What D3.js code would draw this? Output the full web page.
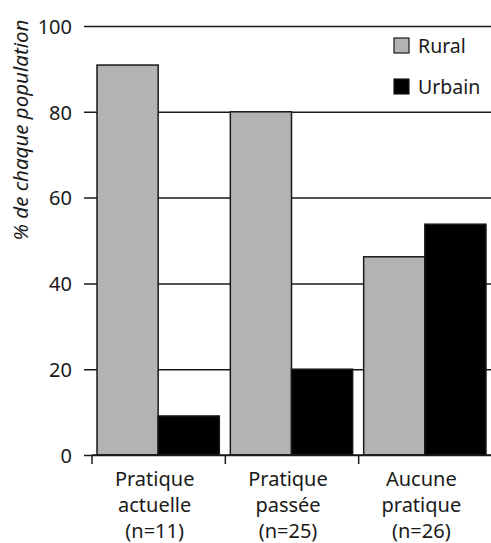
<!DOCTYPE html>
<html>
<head>
<meta charset="utf-8">
<script src="https://cdn.jsdelivr.net/npm/d3@7"></script>
<style>
  html, body { margin: 0; padding: 0; background: #fff; }
  svg { display: block; }
  text { font-family: "Noto Sans", sans-serif; fill: #1a1a1a; }
</style>
</head>
<body>
<svg id="chart" width="491" height="543"></svg>
<script>
const categories = ["Pratique actuelle (n=11)", "Pratique passée (n=25)", "Aucune pratique (n=26)"];
const categoryLines = [["Pratique", "actuelle", "(n=11)"], ["Pratique", "passée", "(n=25)"], ["Aucune", "pratique", "(n=26)"]];
const seriesNames = ["Rural", "Urbain"];
const ruralValues = [90.9, 80, 46.2];
const urbainValues = [9.1, 20, 53.8];
const yTicks = [0, 20, 40, 60, 80, 100];
const yTitle = "% de chaque population";

const colors = { Rural: "#b3b3b3", Urbain: "#000000" };
const seriesValues = { Rural: ruralValues, Urbain: urbainValues };

const svg = d3.select("#chart");
const plotLeft = 92, plotRight = 492, plotTop = 26, plotBottom = 455;

const x = d3.scaleBand().domain(categories).range([plotLeft, plotRight]).padding(0);
const xs = d3.scaleBand().domain(seriesNames).range([5, x.bandwidth() - 6]).padding(0);
const y = d3.scaleLinear().domain([0, 100]).range([plotBottom, plotTop]);

// gridlines + y ticks
const yAxis = d3.axisLeft(y).tickValues(yTicks).tickSize(-(491 - 84)).tickPadding(12).tickFormat(d3.format("d"));
const gy = svg.append("g").attr("transform", `translate(84,0)`).call(yAxis);
gy.select(".domain").remove();
gy.selectAll(".tick line").attr("stroke", "#1a1a1a").attr("stroke-width", 1.5).attr("x1", 0);
gy.selectAll(".tick text").attr("x", -12).attr("dy", "0.36em").style("font-size", "20px").style("font-family", "Noto Sans").attr("fill", "#1a1a1a");

// bars
const groups = svg.append("g").selectAll("g").data(categories).join("g")
  .attr("transform", d => `translate(${x(d)},0)`);
groups.selectAll("rect")
  .data((d, i) => seriesNames.map(s => ({ s, v: seriesValues[s][i] })))
  .join("rect")
  .attr("x", d => xs(d.s))
  .attr("width", xs.bandwidth())
  .attr("y", d => y(d.v))
  .attr("height", d => y(0) - y(d.v))
  .attr("fill", d => colors[d.s])
  .attr("stroke", "#1a1a1a")
  .attr("stroke-width", 1.5);

// x axis baseline and boundary ticks
svg.append("line").attr("x1", plotLeft).attr("x2", 491).attr("y1", y(0)).attr("y2", y(0))
  .attr("stroke", "#1a1a1a").attr("stroke-width", 1.5);
const boundaries = categories.map(c => x(c)).concat([x(categories[categories.length - 1]) + x.bandwidth()]);
svg.append("g").selectAll("line").data(boundaries).join("line")
  .attr("x1", d => d).attr("x2", d => d)
  .attr("y1", y(0)).attr("y2", y(0) + 9)
  .attr("stroke", "#1a1a1a").attr("stroke-width", 1.5);

// x labels
categories.forEach((c, i) => {
  const cx = x(c) + x.bandwidth() / 2 - 4;
  const t = svg.append("text")
    .attr("x", cx)
    .attr("text-anchor", "middle")
    .style("font-size", "20px");
  categoryLines[i].forEach((ln, j) => {
    t.append("tspan").attr("x", cx).attr("y", 486 + j * 26).text(ln);
  });
});

// y title
svg.append("text")
  .attr("transform", `translate(28,130) rotate(-90)`)
  .attr("text-anchor", "middle")
  .style("font-size", "20.5px")
  .style("font-style", "italic")
  .text(yTitle);

// legend
const legend = svg.append("g");
seriesNames.forEach((s, i) => {
  legend.append("rect")
    .attr("x", 394).attr("y", 38 + i * 41)
    .attr("width", 15).attr("height", 15)
    .attr("fill", colors[s]).attr("stroke", "#1a1a1a").attr("stroke-width", 1.2);
  legend.append("text")
    .attr("x", 418).attr("y", 53 + i * 41)
    .style("font-size", "19.5px")
    .text(s);
});
</script>
</body>
</html>
